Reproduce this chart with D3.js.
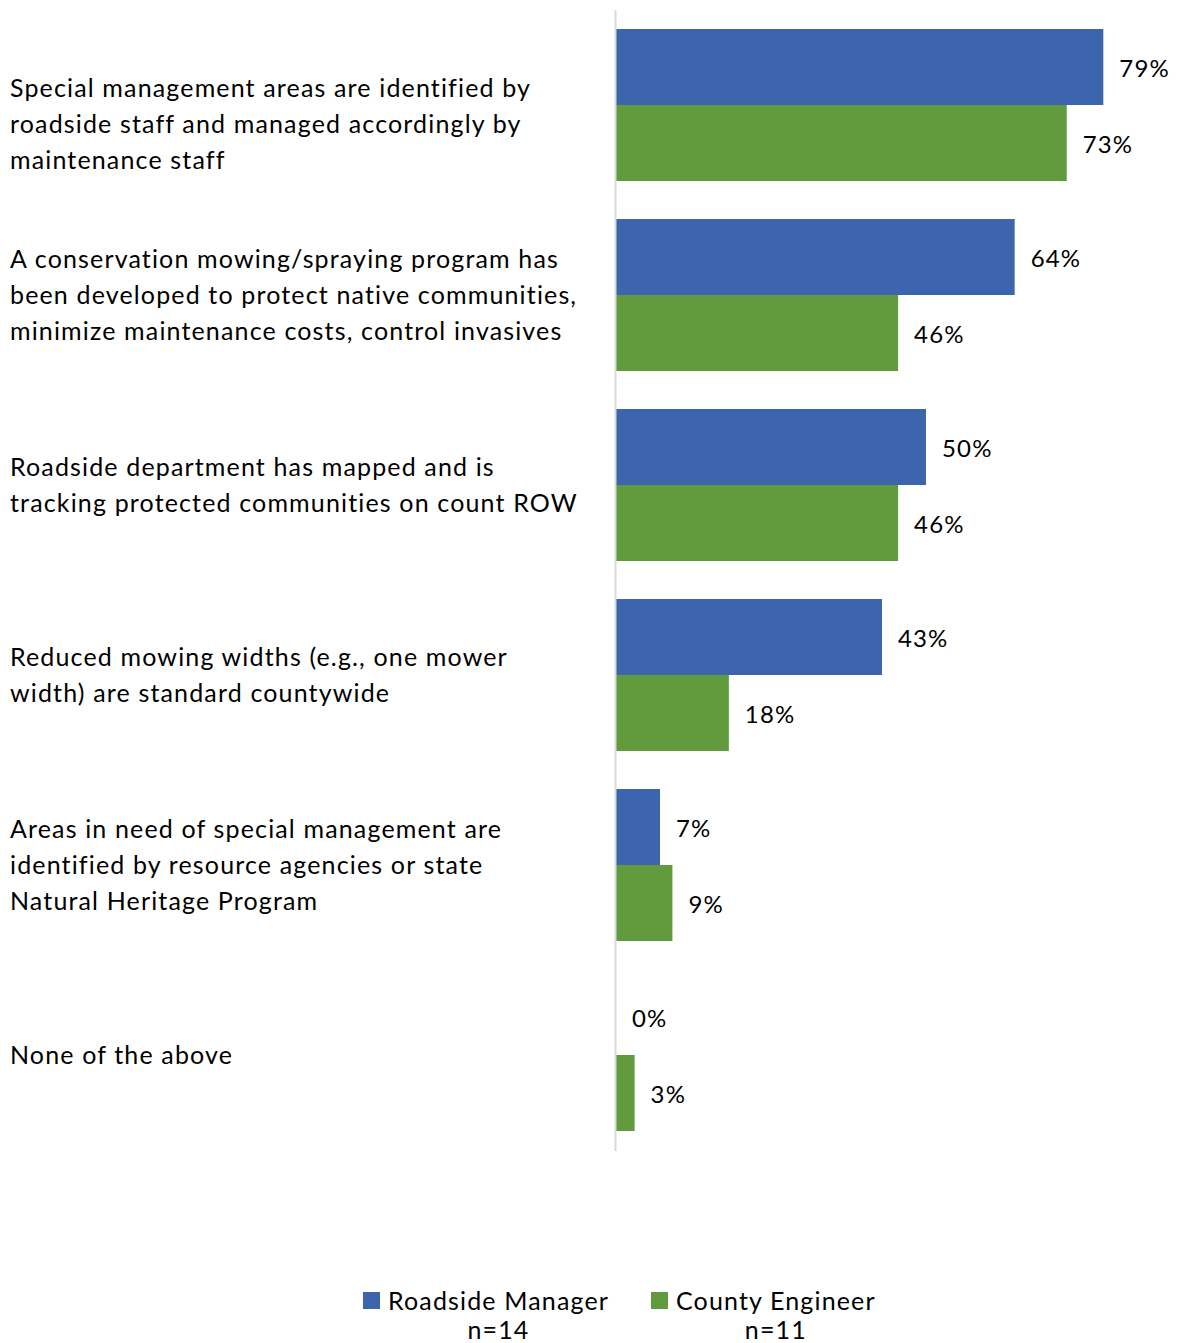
<!DOCTYPE html>
<html>
<head>
<meta charset="utf-8">
<script src="https://cdn.jsdelivr.net/npm/d3@7"></script>
<style>
  body { margin: 0; background: #fff; }
  text { font-family: Lato, "Open Sans", sans-serif; fill: #000; letter-spacing: 1.15px; }
</style>
</head>
<body>
<script>
// chart size
const width = 1178;
const height = 1343;

// data
const categories = [
  "Special management areas are identified by|roadside staff and managed accordingly by|maintenance staff",
  "A conservation mowing/spraying program has|been developed to protect native communities,|minimize maintenance costs, control invasives",
  "Roadside department has mapped and is|tracking protected communities on count ROW",
  "Reduced mowing widths (e.g., one mower|width) are standard countywide",
  "Areas in need of special management are|identified by resource agencies or state|Natural Heritage Program",
  "None of the above"
];
const seriesNames = ["Roadside Manager", "County Engineer"];
const seriesN = ["n=14", "n=11"];
const roadsideManager = [0.786, 0.643, 0.50, 0.429, 0.071, 0.0];
const countyEngineer = [0.727, 0.455, 0.455, 0.182, 0.091, 0.03];
const colors = ["#3c65ad", "#629a3e"];

const axisX = 616;
const plotTop = 10, plotBottom = 1150;

const data = categories.map((c, i) => ({
  cat: c,
  vals: [roadsideManager[i], countyEngineer[i]]
}));

const svg = d3.select("body").append("svg")
  .attr("width", width)
  .attr("height", height);

// scales
const yScale = d3.scaleBand()
  .domain(categories)
  .range([plotTop, plotBottom])
  .paddingInner(0.2)
  .paddingOuter(0.1);

const ySub = d3.scaleBand()
  .domain(seriesNames)
  .range([0, yScale.bandwidth()]);

const xScale = d3.scaleLinear()
  .domain([0, 1])
  .range([axisX, axisX + 620]);

// bars
const groups = svg.selectAll("g.grp")
  .data(data)
  .enter()
  .append("g")
  .attr("class", "grp")
  .attr("transform", d => "translate(0," + yScale(d.cat) + ")");

groups.selectAll("rect")
  .data(d => d.vals.map((v, j) => ({v, j})))
  .enter()
  .append("rect")
  .attr("x", xScale(0))
  .attr("y", d => ySub(seriesNames[d.j]))
  .attr("width", d => xScale(d.v) - xScale(0))
  .attr("height", ySub.bandwidth())
  .attr("fill", d => colors[d.j]);

// value labels
groups.selectAll("text.val")
  .data(d => d.vals.map((v, j) => ({v, j})))
  .enter()
  .append("text")
  .attr("class", "val")
  .attr("x", d => xScale(d.v) + 16)
  .attr("y", d => ySub(seriesNames[d.j]) + ySub.bandwidth() / 2)
  .attr("dy", "0.4em")
  .style("font-size", "24px")
  .text(d => Math.round(d.v * 100) + "%");

// axis line
svg.append("line")
  .attr("x1", axisX - 0.5).attr("x2", axisX - 0.5)
  .attr("y1", plotTop).attr("y2", plotBottom + 1)
  .attr("stroke", "#d9d9d9")
  .attr("stroke-width", 2);

// category labels
const lineH = 36;
const shift = {0: 19};  // first label sits a bit lower in the original
categories.forEach((c, i) => {
  const lines = c.split("|");
  const cy = yScale(c) + yScale.bandwidth() / 2 + (shift[i] || 0);
  const t = svg.append("text")
    .attr("x", 10)
    .attr("y", cy - (lines.length - 1) * lineH / 2)
    .style("font-size", "25px");
  lines.forEach((l, k) => {
    t.append("tspan")
      .attr("x", 10)
      .attr("dy", k === 0 ? "0.35em" : lineH)
      .text(l);
  });
});

// legend
const legX = [363, 651];
seriesNames.forEach((s, i) => {
  const g = svg.append("g").attr("transform", "translate(" + legX[i] + ",1292)");
  g.append("rect")
    .attr("width", 17).attr("height", 17)
    .attr("fill", colors[i]);
  const t = g.append("text")
    .attr("x", 25)
    .attr("y", 9)
    .attr("dy", "0.35em")
    .style("font-size", "25px")
    .text(s);
  const w = t.node().getComputedTextLength();
  g.append("text")
    .attr("x", 25 + w / 2)
    .attr("y", 38)
    .attr("dy", "0.35em")
    .attr("text-anchor", "middle")
    .style("font-size", "25px")
    .text(seriesN[i]);
});
</script>
</body>
</html>
